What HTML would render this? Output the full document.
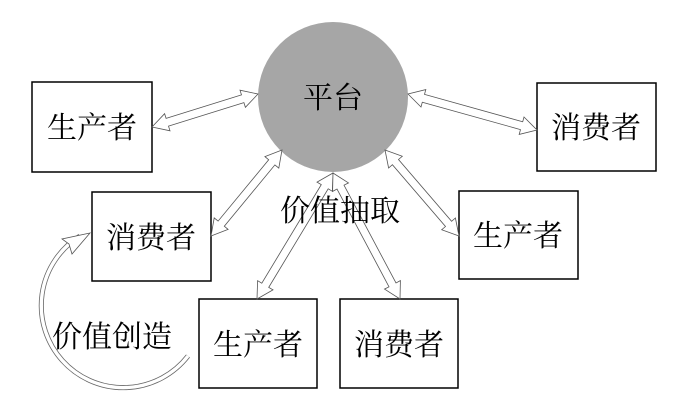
<!DOCTYPE html>
<html><head><meta charset="utf-8"><style>
html,body{margin:0;padding:0;background:#fff;}
svg{display:block}
text{font-family:"Noto Serif CJK SC","Liberation Serif",serif;font-size:30px;fill:#000;}
</style></head><body>
<svg id="s" width="674" height="411" viewBox="0 0 674 411" xmlns="http://www.w3.org/2000/svg">
<circle cx="333" cy="97" r="75" fill="#a6a6a6"/>
<g fill="#fff" stroke="#000" stroke-width="1.5">
<rect x="32" y="82" width="120" height="90"/>
<rect x="92" y="192" width="119" height="89"/>
<rect x="199" y="299" width="118" height="89"/>
<rect x="340" y="299" width="118" height="89"/>
<rect x="537" y="83" width="119" height="88"/>
<rect x="459" y="191" width="119" height="88"/>
</g>
<g id="arrows" fill="#fff" stroke="#555" stroke-width="0.8"></g>
<path d="M188,356 A82,82 0 1 1 80,236" fill="none" stroke="#666" stroke-width="5"/>
<path d="M188,356 A82,82 0 1 1 80,236" fill="none" stroke="#fff" stroke-width="3.4"/>
<polygon points="90,233 72,254 69,244 62,239" fill="#fff" stroke="#555" stroke-width="0.8"/>
<text x="333" y="108" text-anchor="middle">平台</text>
<text x="92" y="138" text-anchor="middle">生产者</text>
<text x="151" y="248" text-anchor="middle">消费者</text>
<text x="258" y="355" text-anchor="middle">生产者</text>
<text x="399" y="355" text-anchor="middle">消费者</text>
<text x="596" y="138" text-anchor="middle">消费者</text>
<text x="518" y="246" text-anchor="middle">生产者</text>
<text x="340" y="221" text-anchor="middle">价值抽取</text>
<text x="112" y="347" text-anchor="middle">价值创造</text>
</svg>
<script>
var g=document.getElementById('arrows');
function arrow(x1,y1,x2,y2){
 var dx=x2-x1,dy=y2-y1,L=Math.hypot(dx,dy),ux=dx/L,uy=dy/L,nx=-uy,ny=ux;
 var sw=4,hw=9,hl=16;
 function p(t,o){return (x1+ux*t+nx*o).toFixed(1)+','+(y1+uy*t+ny*o).toFixed(1);}
 var pts=[p(0,0),p(hl,hw),p(hl,sw),p(L-hl,sw),p(L-hl,hw),p(L,0),p(L-hl,-hw),p(L-hl,-sw),p(hl,-sw),p(hl,-hw)];
 var e=document.createElementNS('http://www.w3.org/2000/svg','polygon');
 e.setAttribute('points',pts.join(' '));g.appendChild(e);
}
arrow(152,127,258,94);
arrow(211,236,282,150);
arrow(257,299,333,173);
arrow(400,299,333,173);
arrow(459,236,385,150);
arrow(537,130,408,94);
</script>
</body></html>
